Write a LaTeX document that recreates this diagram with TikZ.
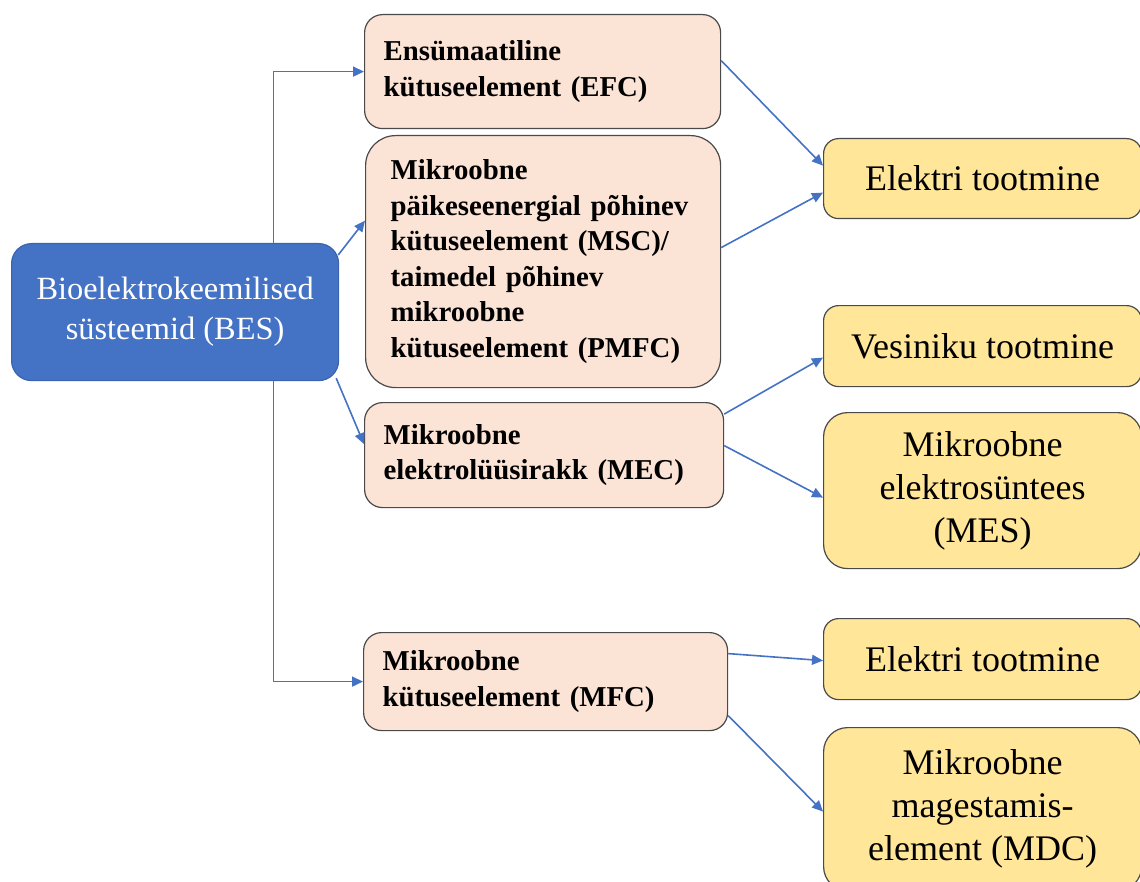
\documentclass[tikz,border=0pt]{standalone}
\usepackage{fontspec}
\setmainfont{Liberation Serif}
\usetikzlibrary{arrows.meta,calc}

\definecolor{besblue}{HTML}{4472C4}
\definecolor{besline}{HTML}{3A64B2}
\definecolor{peach}{HTML}{FBE3D5}
\definecolor{sand}{HTML}{FFE699}
\definecolor{boxline}{HTML}{4A4A4A}
\definecolor{arrowblue}{HTML}{4472C4}

\begin{document}
\begin{tikzpicture}[x=0.5pt, y=-0.5pt,
  bes box/.style={draw=besline, line width=0.6pt, fill=besblue, text=white, rounded corners=10pt, align=center, anchor=north west, font=\fontsize{16.2}{20}\selectfont},
  cell box/.style={draw=boxline, line width=0.6pt, fill=peach, rounded corners=9pt, align=left, anchor=north west, inner xsep=9.5pt, font=\bfseries\fontsize{14.4}{17.8}\selectfont},
  out box/.style={draw=boxline, line width=0.6pt, fill=sand, rounded corners=7.5pt, align=center, anchor=north west, minimum width=159pt, font=\fontsize{18}{21.5}\selectfont},
  link/.style={draw=arrowblue, line width=0.8pt, -{Triangle[length=5.5pt,width=5pt]}}]

% Frame
\useasboundingbox (0,0) rectangle (1140,882);

% Left box
\node[bes box, minimum width=163.5pt, minimum height=68.5pt] (bes) at (11,243) {Bioelektrokeemilised\\süsteemid (BES)};

% Middle boxes
\node[cell box, text width=159pt, minimum height=57pt] (efc) at (364,14) {Ensümaatiline\\kütuseelement (EFC)};
\node[cell box, text width=152.5pt, inner xsep=12.5pt, rounded corners=15pt, minimum height=126pt] (msc) at (365,135) {Mikroobne\\päikeseenergial põhinev\\kütuseelement (MSC)/\\taimedel põhinev\\mikroobne\\kütuseelement (PMFC)};
\node[cell box, text width=160.5pt, minimum height=52.5pt] (mec) at (364,402) {Mikroobne\\elektrolüüsirakk (MEC)};
\node[cell box, text width=163pt, minimum height=49pt] (mfc) at (363,632) {Mikroobne\\kütuseelement (MFC)};

% Right boxes
\node[out box, minimum height=40pt] (el1) at (823,138) {Elektri tootmine};
\node[out box, minimum height=40.5pt] (ves) at (823,305) {Vesiniku tootmine};
\node[out box, minimum height=78pt, rounded corners=12pt] (mes) at (823,412) {Mikroobne\\elektrosüntees\\(MES)};
\node[out box, minimum height=40.5pt] (el2) at (823,618) {Elektri tootmine};
\node[out box, minimum height=81.5pt, rounded corners=12pt] (mdc) at (823,727) {Mikroobne\\magestamis-\\element (MDC)};

% Arrows from BES
\draw[link] ($(bes.north west)!0.8!(bes.north east)$) |- (efc.west);
\draw[link] ($(bes.south west)!0.8!(bes.south east)$) |- (mfc.west);
\draw[link] ($(bes.north east)+(-1,12)$) -- ($(msc.west)+(0,-41)$);
\draw[link] ($(bes.south east)+(-3,-3)$) -- ($(mec.west)+(0,-11)$);

% Arrows to products
\draw[link] ($(efc.east)+(0,-11)$) -- ($(el1.west)+(0,-13)$);
\draw[link] ($(msc.east)+(0,-14)$) -- ($(el1.west)+(0,14)$);
\draw[link] ($(mec.east)+(0,-41)$) -- ($(ves.west)+(0,11.5)$);
\draw[link] ($(mec.east)+(0,-9.5)$) -- ($(mes.west)+(0,7)$);
\draw[link] ($(mfc.east)+(0,-28)$) -- ($(el2.west)+(0,1.5)$);
\draw[link] ($(mfc.east)+(0,34)$) -- ($(mdc.west)+(0,2.5)$);

\end{tikzpicture}
\end{document}
